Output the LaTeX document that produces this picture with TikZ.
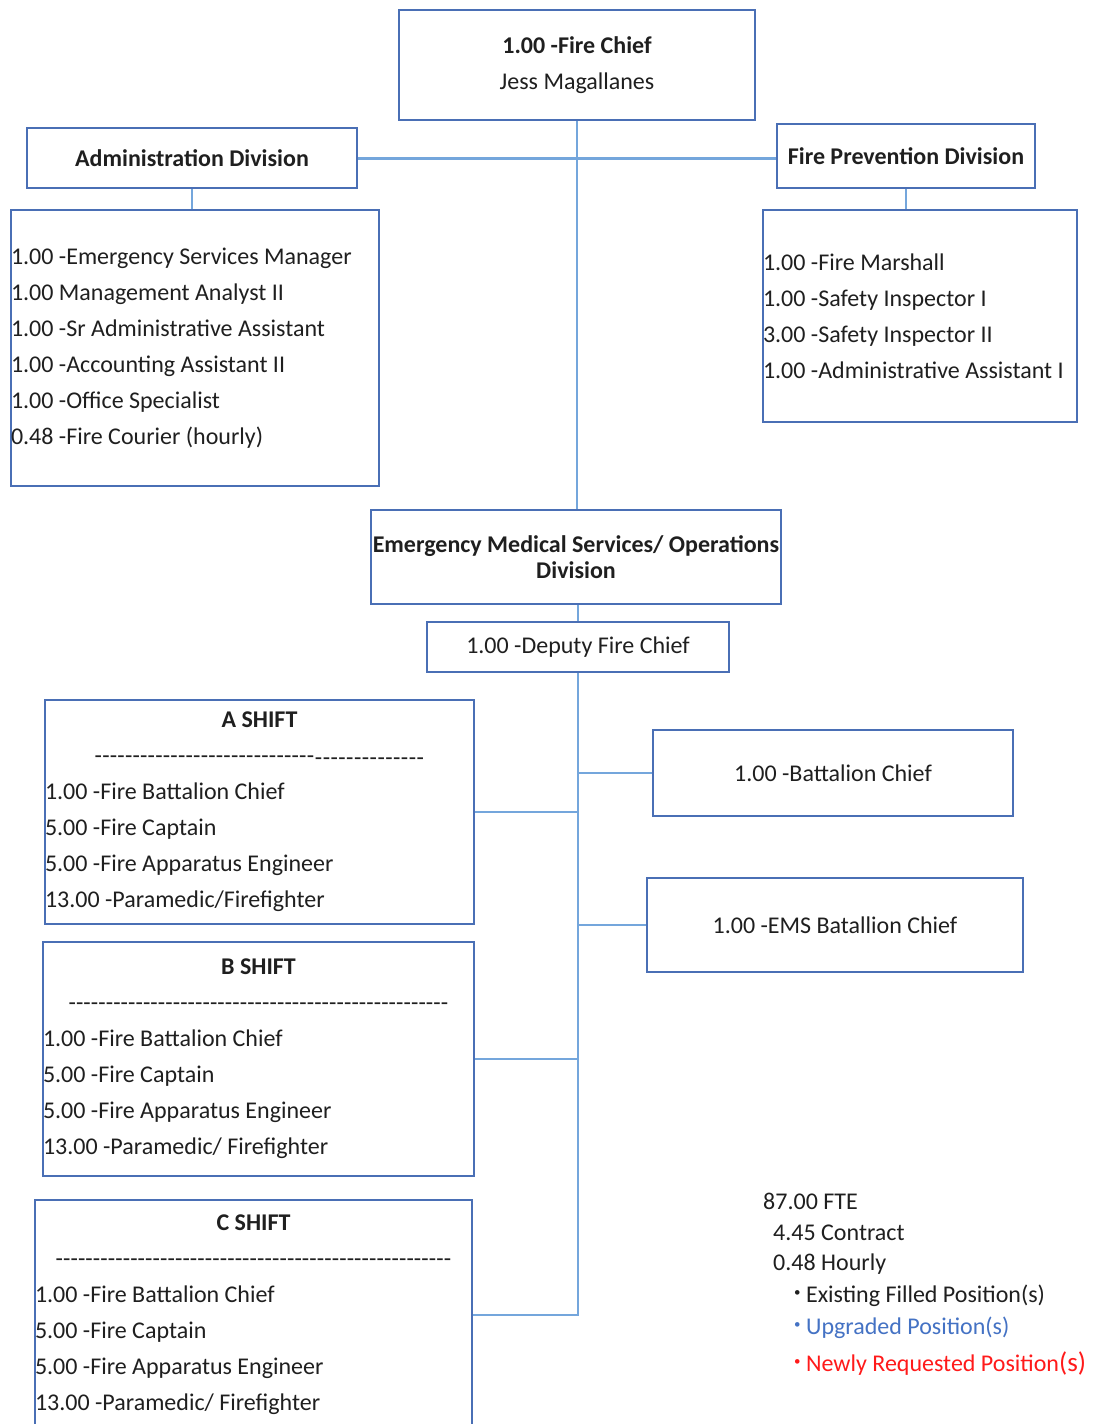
\documentclass[tikz,border=0pt]{standalone}
\usepackage{fontspec}
\setmainfont{Carlito}
\definecolor{boxblue}{HTML}{4A6FB5}
\definecolor{linkblue}{HTML}{74A6DC}
\definecolor{inkgray}{HTML}{1F1F1F}
\definecolor{legblue}{HTML}{4472C4}
\definecolor{legred}{HTML}{FF1A1A}
\newcommand\bodysize{\fontsize{24}{36}\selectfont}
\newcommand\dashfill[1]{\hbox to #1{\xleaders\hbox{-}\hfill}}
\newcommand\legbullet{{\fontsize{13}{13}\selectfont\raisebox{6pt}{•}}}
\begin{document}
\begin{tikzpicture}[x=1pt,y=-1pt,
  every node/.style={inner sep=0pt, text=inkgray, font=\bodysize},
  orgbox/.style={draw=boxblue, line width=1.5pt, rectangle, align=center},
  listbox/.style={orgbox, align=left,
    execute at begin node={\spaceskip=0pt\relax\xspaceskip=0pt\relax}},
  link/.style={draw=linkblue, line width=2pt},
]
\path[fill=white, use as bounding box] (0,0) rectangle (1098,1424);

% top of the chart
\node[orgbox, minimum width=356pt, minimum height=110pt] (chief) at (577,65)
  {\textbf{1.00 -Fire Chief}\\Jess Magallanes};
\node[orgbox, minimum width=330pt, minimum height=60pt, font=\bodysize\bfseries] (admin) at (192,158)
  {Administration Division};
\node[orgbox, minimum width=258pt, minimum height=64pt, font=\bodysize\bfseries] (fireprev) at (906,156)
  {Fire Prevention Division};

% division staff lists
\node[listbox, text width=368pt, minimum height=276pt] (adminlist) at (195,348)
  {1.00 -Emergency Services Manager\\
   1.00 Management Analyst II\\
   1.00 -Sr Administrative Assistant\\
   1.00 -Accounting Assistant II\\
   1.00 -Office Specialist\\
   0.48 -Fire Courier (hourly)};
\node[listbox, text width=314pt, minimum height=212pt] (fplist) at (920,316)
  {1.00 -Fire Marshall\\
   1.00 -Safety Inspector I\\
   3.00 -Safety Inspector II\\
   1.00 -Administrative Assistant I};

% operations
\node[orgbox, minimum width=410pt, minimum height=94pt, font=\fontsize{24}{26}\selectfont\bfseries] (ems) at (576,557)
  {Emergency Medical Services/ Operations\\Division};
\node[orgbox, minimum width=302pt, minimum height=50pt] (deputy) at (578,647)
  {1.00 -Deputy Fire Chief};

% shifts
\node[listbox, text width=429pt, minimum height=224pt] (ashift) at (259.5,812)
  {\makebox[429pt]{\textbf{A SHIFT}}\\
   \makebox[429pt]{\dashfill{220pt}\raisebox{-2pt}{\dashfill{110pt}}}\\
   1.00 -Fire Battalion Chief\\
   5.00 -Fire Captain\\
   5.00 -Fire Apparatus Engineer\\
   13.00 -Paramedic/Firefighter};
\node[listbox, text width=431pt, minimum height=234pt] (bshift) at (258.5,1059)
  {\makebox[431pt]{\textbf{B SHIFT}}\\
   \makebox[431pt]{\dashfill{380pt}}\\
   1.00 -Fire Battalion Chief\\
   5.00 -Fire Captain\\
   5.00 -Fire Apparatus Engineer\\
   13.00 -Paramedic/ Firefighter};
\node[listbox, text width=437pt, minimum height=230pt] (cshift) at (253.5,1315)
  {\makebox[437pt]{\textbf{C SHIFT}}\\
   \makebox[437pt]{\dashfill{396pt}}\\
   1.00 -Fire Battalion Chief\\
   5.00 -Fire Captain\\
   5.00 -Fire Apparatus Engineer\\
   13.00 -Paramedic/ Firefighter};

% chiefs on the right
\node[orgbox, minimum width=360pt, minimum height=86pt] (bc) at (833,773)
  {1.00 -Battalion Chief};
\node[orgbox, minimum width=376pt, minimum height=94pt] (ebc) at (835,925)
  {1.00 -EMS Batallion Chief};

% connectors
\draw[link] (chief.south) -- (chief.south |- admin.east) coordinate (hub);
\draw[link, line width=3pt] (admin.east) -- (admin.east -| fireprev.west);
\draw[link] (hub) -- (hub |- ems.north);
\draw[link] (admin.south) -- (admin.south |- adminlist.north);
\draw[link] (fireprev.south) -- (fireprev.south |- fplist.north);
\draw[link] (deputy.north |- ems.south) -- (deputy.north);
\draw[link, line width=2.5pt] (deputy.south) |- (cshift.east);
\draw[link] (ashift.east) -- (ashift.east -| deputy.south);
\draw[link] (bshift.east) -- (bshift.east -| deputy.south);
\draw[link] (bc.west) -- (bc.west -| deputy.south);
\draw[link] (ebc.west) -- (ebc.west -| deputy.south);

% totals and key
\node[anchor=west] (fte) at (763,1201) {87.00 FTE};
\node[anchor=west] (contract) at (773,1233) {4.45 Contract};
\node[anchor=west] (hourly) at (773,1264) {0.48 Hourly};
\node[anchor=west] (existing) at (794,1296) {\legbullet\ Existing Filled Position(s)};
\node[anchor=west, text=legblue] (upgraded) at (794,1328) {\legbullet\ Upgraded Position(s)};
\node[anchor=west, text=legred] (newly) at (794,1364) {\legbullet\ Newly Requested Position{\fontsize{27}{36}\selectfont(s)}};
\end{tikzpicture}
\end{document}
